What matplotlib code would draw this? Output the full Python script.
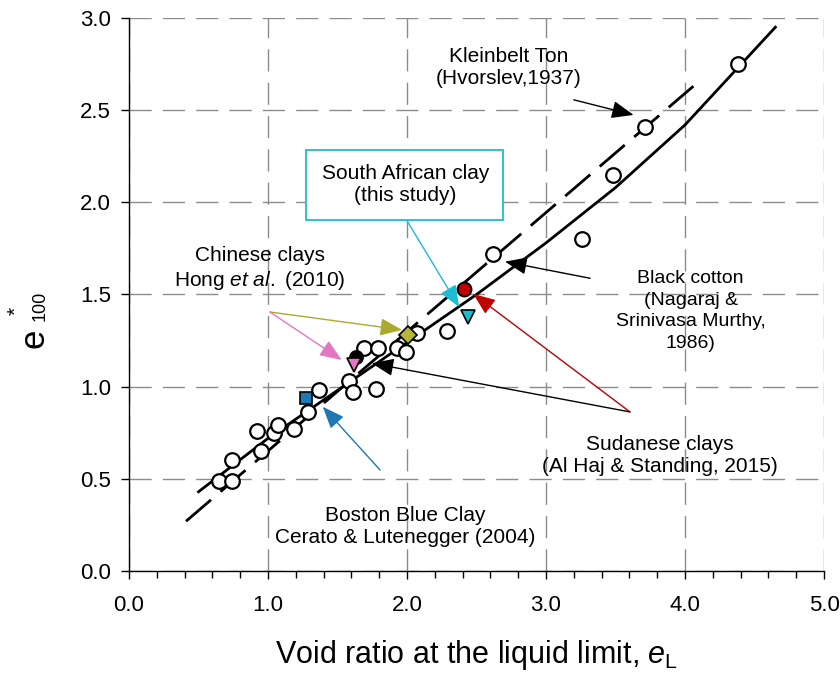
import numpy as np
import matplotlib
matplotlib.use("Agg")
import matplotlib.pyplot as plt
from matplotlib.patches import Rectangle

plt.rcParams['font.family'] = ['Liberation Sans', 'DejaVu Sans']
plt.rcParams['mathtext.fontset'] = 'custom'
plt.rcParams['mathtext.rm'] = 'Liberation Sans'
plt.rcParams['mathtext.it'] = 'Liberation Sans:italic'

# ---- data (eL, e*100) ----
# literature points, open circles
lit_eL = [0.65, 0.74, 0.74, 0.92, 0.95, 1.04, 1.07, 1.19, 1.29, 1.37, 1.58, 1.61,
          1.78, 1.69, 1.79, 1.93, 1.99, 2.07, 2.29, 2.62, 3.26, 3.48, 3.71, 4.38]
lit_e100 = [0.49, 0.49, 0.60, 0.76, 0.65, 0.75, 0.79, 0.77, 0.86, 0.98, 1.03, 0.97,
            0.99, 1.21, 1.21, 1.21, 1.19, 1.29, 1.30, 1.72, 1.80, 2.15, 2.41, 2.75]

# single highlighted soils
boston_eL, boston_e = [1.27], [0.94]
hong_black_eL, hong_black_e = [1.63], [1.16]
hong_pink_eL, hong_pink_e = [1.62], [1.12]
hong_olive_eL, hong_olive_e = [2.01], [1.28]
sudan_eL, sudan_e = [2.41], [1.53]
sa_eL, sa_e = [2.44], [1.38]

# intrinsic compression line (solid) and Kleinbelt Ton line (dashed)
icl_eL = [0.5, 1.0, 1.5, 2.0, 2.5, 3.0, 3.5, 4.0, 4.65]
icl_e = [0.43, 0.72, 0.98, 1.24, 1.50, 1.78, 2.08, 2.42, 2.95]
kt_eL = [0.41, 4.06]
kt_e = [0.27, 2.63]

fig = plt.figure(figsize=(8.4, 6.86), dpi=100)
ax = fig.add_axes([0.1536, 0.1676, 0.8274, 0.8062])

ax.set_xlim(0, 5)
ax.set_ylim(0, 3)
ax.set_xticks(np.arange(0, 5.01, 1.0))
ax.set_xticks(np.arange(0, 5.01, 0.2), minor=True)
ax.set_yticks(np.arange(0, 3.01, 0.5))
ax.set_xticklabels([f"{v:.1f}" for v in np.arange(0, 5.01, 1.0)])
ax.set_yticklabels([f"{v:.1f}" for v in np.arange(0, 3.01, 0.5)])
ax.tick_params(axis='both', which='major', direction='out', length=6, width=1,
               labelsize=16)
ax.tick_params(axis='x', which='major', pad=11)
ax.tick_params(axis='y', which='major', pad=7)
ax.tick_params(axis='x', which='minor', direction='out', length=5, width=1)
for s in ['top', 'right']:
    ax.spines[s].set_visible(False)
for s in ['left', 'bottom']:
    ax.spines[s].set_linewidth(1.0)

ax.grid(True, which='major', color='#8c8c8c', linestyle=(0, (16, 8)), linewidth=1.0)
ax.set_axisbelow(True)

ax.plot(icl_eL, icl_e, color='black', lw=2.0, zorder=3)
ax.plot(kt_eL, kt_e, color='black', lw=2.0, linestyle=(0, (11.85, 4.5)), zorder=3)

ax.plot(lit_eL, lit_e100, 'o', mfc='white', mec='black', mew=1.6, ms=10.5,
        linestyle='none', zorder=4)
ax.plot(boston_eL, boston_e, 's', mfc='#1f77b4', mec='black', mew=1.2, ms=9,
        linestyle='none', zorder=5)
ax.plot(hong_black_eL, hong_black_e, 'o', mfc='black', mec='black', mew=1.2,
        ms=9.5, linestyle='none', zorder=5)
ax.plot(hong_pink_eL, hong_pink_e, 'v', mfc='#e377c2', mec='black', mew=1.2,
        ms=10, linestyle='none', zorder=6)
ax.plot(hong_olive_eL, hong_olive_e, 'D', mfc='#b5b53a', mec='black', mew=1.2,
        ms=9, linestyle='none', zorder=5)
ax.plot(sudan_eL, sudan_e, 'o', mfc='#c00000', mec='black', mew=1.4, ms=10,
        linestyle='none', zorder=5)
ax.plot(sa_eL, sa_e, 'v', mfc='#17becf', mec='black', mew=1.2, ms=10,
        linestyle='none', zorder=5)

ax.set_xlabel(r'Void ratio at the liquid limit, $\mathit{e}_\mathregular{L}$',
              fontsize=22, labelpad=16)

# y label: e with * superscript and 100 subscript
fig.text(34 / 840, 1 - 338 / 686, 'e', rotation=90, fontsize=25,
         ha='center', va='center')
fig.text(16 / 840, 1 - 311 / 686, '*', rotation=90, fontsize=15,
         ha='center', va='center')
fig.text(40 / 840, 1 - 306 / 686, '100', rotation=90, fontsize=13,
         ha='center', va='center')


def arrow(tail, tip, color):
    ax.annotate('', xy=tip, xytext=tail,
                arrowprops=dict(arrowstyle='-|>,head_length=0.75,head_width=0.3',
                                color=color, lw=1.0, mutation_scale=18,
                                shrinkA=0, shrinkB=0),
                zorder=7)


tfs = 15
ax.text(2.73, 2.73, 'Kleinbelt Ton\n(Hvorslev,1937)', ha='center', va='center',
        fontsize=tfs, linespacing=1.2)
arrow((3.20, 2.556), (3.63, 2.474), 'black')

ax.add_patch(Rectangle((1.273, 1.905), 1.418, 0.379, fc='white', ec='#1bbcd4',
                       lw=1.3, zorder=6))
ax.text(1.99, 2.094, 'South African clay\n(this study)', ha='center', va='center',
        fontsize=tfs, linespacing=1.2, zorder=7)
arrow((2.0, 1.90), (2.376, 1.431), '#1bbcd4')

ax.text(0.94, 1.64, 'Chinese clays\nHong $\\mathit{et\\ al.}$ (2010)', ha='center',
        va='center', fontsize=tfs, linespacing=1.25)
arrow((1.014, 1.405), (1.964, 1.308), '#aaaa30')
arrow((1.014, 1.405), (1.53, 1.145), '#e377c2')

ax.text(4.04, 1.41, 'Black cotton\n(Nagaraj &\nSrinivasa Murthy,\n1986)', ha='center',
        va='center', fontsize=14, linespacing=1.35)
arrow((3.317, 1.588), (2.705, 1.678), 'black')

ax.text(3.82, 0.627, 'Sudanese clays\n(Al Haj & Standing, 2015)', ha='center',
        va='center', fontsize=tfs, linespacing=1.2)
arrow((3.604, 0.863), (2.477, 1.503), '#c00000')
arrow((3.604, 0.863), (1.746, 1.127), 'black')

ax.text(1.99, 0.241, 'Boston Blue Clay\nCerato & Lutenegger (2004)', ha='center',
        va='center', fontsize=tfs, linespacing=1.2)
arrow((1.806, 0.548), (1.394, 0.891), '#1f77b4')

fig.savefig('out.png', dpi=100)
